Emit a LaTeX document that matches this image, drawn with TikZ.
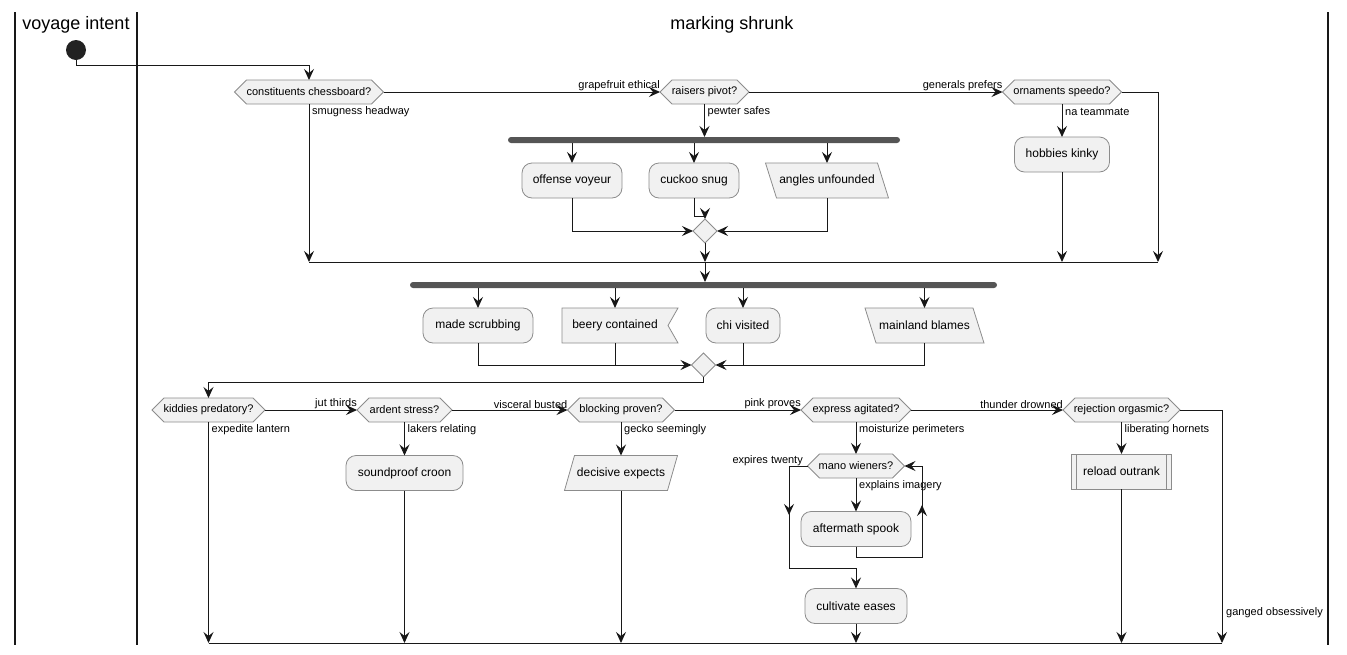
\documentclass[tikz,border=0pt]{standalone}
\usepackage{fontspec}
\setmainfont{Liberation Sans}
\usetikzlibrary{arrows.meta,shapes.geometric,backgrounds}
\definecolor{boxc}{HTML}{F1F1F1}
\definecolor{bordc}{HTML}{8C8C8C}
\definecolor{linec}{HTML}{181818}
\definecolor{barc}{HTML}{555555}
\definecolor{startc}{HTML}{222222}
\newcommand\hexbg[1]{\filldraw[shp] (#1.west) -- ([xshift=12pt]#1.north west) -- ([xshift=-12pt]#1.north east) -- (#1.east) -- ([xshift=-12pt]#1.south east) -- ([xshift=12pt]#1.south west) -- cycle;}
\newcommand\parabg[3]{\filldraw[shp] ([xshift=#2pt]#1.north west) -- ([xshift=#2pt]#1.north east) -- ([xshift=#3pt]#1.south east) -- ([xshift=#3pt]#1.south west) -- cycle;}
\newcommand\notchbg[1]{\filldraw[shp] (#1.north west) -- ([xshift=10pt]#1.north east) -- (#1.east) -- ([xshift=10pt]#1.south east) -- (#1.south west) -- cycle;}
\tikzset{
 shp/.style={draw=bordc, fill=boxc, line width=0.8pt},
 hexn/.style={inner sep=0pt, outer sep=0pt, minimum height=24pt, font=\fontsize{11}{13}\selectfont},
 act/.style={shp, rounded corners=10pt, inner sep=0pt, outer sep=0pt, minimum height=35pt, font=\fontsize{12}{14}\selectfont},
 txtn/.style={inner sep=0pt, outer sep=0pt, minimum height=35pt, font=\fontsize{12}{14}\selectfont},
 lbl/.style={inner sep=0pt, font=\fontsize{11}{13}\selectfont},
 forkbar/.style={fill=barc, rounded corners=3pt, minimum height=6pt, inner sep=0pt, outer sep=0pt},
 mrg/.style={diamond, shp, minimum width=24pt, minimum height=24pt, inner sep=0pt, outer sep=0pt},
 arr/.style={draw=linec, line width=1pt, -{Stealth[length=11pt,width=10pt,inset=4pt]}},
 ln/.style={draw=linec, line width=1pt},
 lane/.style={draw=linec, line width=1.3pt},
 ttl/.style={font=\fontsize{18}{21}\selectfont, inner sep=0pt},
}
\begin{document}
\begin{tikzpicture}[x=1pt,y=-1pt]
\useasboundingbox (0,0) rectangle (1347,654);
% lanes
\draw[lane] (15,12) -- (15,645);
\draw[lane] (137,12) -- (137,645);
\draw[lane, line width=2pt] (1328,12) -- (1328,645);
\node[ttl] (t1) at (76,25) {voyage intent};
\node[ttl] (t2) at (732,25) {marking shrunk};
% start
\node[circle, fill=startc, minimum size=20pt, inner sep=0pt, outer sep=0pt] (start) at (76,50) {};
% row 1
\node[hexn, minimum width=149pt] (d1) at (309,92) {constituents chessboard?};
\node[hexn, minimum width=89pt] (d2) at (704.5,92) {raisers pivot?};
\node[hexn, minimum width=119pt] (d3) at (1062,92) {ornaments speedo?};
\node[forkbar, minimum width=392pt] (f1) at (704,140) {};
\node[act, minimum width=100pt] (a1) at (572,180.5) {offense voyeur};
\node[act, minimum width=90pt] (a2) at (694,180.5) {cuckoo snug};
\node[txtn, minimum width=112pt] (a3) at (827,180.5) {angles unfounded};
\node[mrg] (m1) at (705,231) {};
\node[act, minimum width=95pt] (a4) at (1062,154.5) {hobbies kinky};
\coordinate (j1w) at (309,262);
\coordinate (j1m) at (705,262);
\coordinate (j1h) at (1062,262);
\coordinate (j1e) at (1158,262);
% row 2
\node[forkbar, minimum width=587pt] (f2) at (703.5,285) {};
\node[act, minimum width=110pt] (b1) at (478,325.5) {made scrubbing};
\node[txtn, minimum width=106pt] (b2) at (615,325.5) {beery contained};
\node[act, minimum width=74pt] (b3) at (743,325.5) {chi visited};
\node[txtn, minimum width=108pt] (b4) at (924.5,325.5) {mainland blames};
\node[mrg] (m2) at (703.5,365) {};
% row 3
\node[hexn, minimum width=113pt] (e1) at (208.5,410) {kiddies predatory?};
\node[hexn, minimum width=95pt] (e2) at (404.5,410) {ardent stress?};
\node[hexn, minimum width=107pt] (e3) at (621,410) {blocking proven?};
\node[hexn, minimum width=110pt] (e4) at (856,410) {express agitated?};
\node[hexn, minimum width=117pt] (e5) at (1121.5,410) {rejection orgasmic?};
\node[act, minimum width=117pt] (c1) at (404.5,473) {soundproof croon};
\node[txtn, minimum width=103pt] (c2) at (621,473) {decisive expects};
\node[hexn, minimum width=97pt] (g1) at (856,466) {mano wieners?};
\node[act, minimum width=110pt] (g2) at (856,529) {aftermath spook};
\node[act, minimum width=102pt] (g3) at (856,606) {cultivate eases};
\node[shp, txtn, minimum width=100pt] (c3) at (1121.5,471.5) {reload outrank};
\draw[draw=bordc, line width=0.8pt] ([xshift=5pt]c3.north west) -- ([xshift=5pt]c3.south west);
\draw[draw=bordc, line width=0.8pt] ([xshift=-5pt]c3.north east) -- ([xshift=-5pt]c3.south east);
\coordinate (k1) at (208.5,643);
\coordinate (k6) at (1222,643);
% background shapes
\begin{scope}[on background layer]
\hexbg{d1}\hexbg{d2}\hexbg{d3}
\hexbg{e1}\hexbg{e2}\hexbg{e3}\hexbg{e4}\hexbg{e5}\hexbg{g1}
\parabg{a3}{-5.5}{5.5}
\parabg{b4}{-5.5}{5.5}
\parabg{c2}{5}{-5}
\notchbg{b2}
\end{scope}
% connectors row 1
\draw[arr] (start.south) -- ++(0,5) -| (d1.north);
\draw[arr] (d1.east) -- (d2.west);
\node[lbl, anchor=south east] (l1) at ([yshift=1pt]d2.west) {grapefruit ethical};
\draw[arr] (d2.east) -- (d3.west);
\node[lbl, anchor=south east] (l2) at ([yshift=1pt]d3.west) {generals prefers};
\draw[arr] (d3.east) -| (j1e);
\draw[arr] (d1.south) -- (j1w);
\node[lbl, anchor=west] (l3) at ([xshift=3pt,yshift=-8pt]d1.south) {smugness headway};
\draw[arr] (d2.south) -- (d2.south |- f1.north);
\node[lbl, anchor=west] (l4) at ([xshift=3pt,yshift=-8pt]d2.south) {pewter safes};
\draw[arr] (a1.north |- f1.south) -- (a1.north);
\draw[arr] (a2.north |- f1.south) -- (a2.north);
\draw[arr] (a3.north |- f1.south) -- (a3.north);
\draw[arr] (a1.south) |- (m1.west);
\draw[arr] (a2.south) -- ++(0,18) -| (m1.north);
\draw[arr] (a3.south) |- (m1.east);
\draw[arr] (m1.south) -- (j1m);
\draw[arr] (d3.south) -- (a4.north);
\node[lbl, anchor=west] (l5) at ([xshift=3pt,yshift=-8pt]d3.south) {na teammate};
\draw[arr] (a4.south) -- (j1h);
\draw[ln] (j1w) -- (j1e);
% row 2
\draw[arr] (j1m) -- (j1m |- f2.north);
\draw[arr] (b1.north |- f2.south) -- (b1.north);
\draw[arr] (b2.north |- f2.south) -- (b2.north);
\draw[arr] (b3.north |- f2.south) -- (b3.north);
\draw[arr] (b4.north |- f2.south) -- (b4.north);
\draw[arr] (b1.south) |- (m2.west);
\draw[ln] (b2.south) -- (b2.south |- m2.west);
\draw[arr] (b4.south) |- (m2.east);
\draw[ln] (b3.south) -- (b3.south |- m2.east);
\draw[arr] (m2.south) -- ++(0,5) -| (e1.north);
% row 3
\draw[arr] (e1.east) -- (e2.west);
\node[lbl, anchor=south east] (l6) at ([yshift=1pt]e2.west) {jut thirds};
\draw[arr] (e2.east) -- (e3.west);
\node[lbl, anchor=south east] (l7) at ([yshift=1pt]e3.west) {visceral busted};
\draw[arr] (e3.east) -- (e4.west);
\node[lbl, anchor=south east] (l8) at ([yshift=1pt]e4.west) {pink proves};
\draw[arr] (e4.east) -- (e5.west);
\node[lbl, anchor=south east] (l9) at ([yshift=1pt]e5.west) {thunder drowned};
\draw[arr] (e1.south) -- (k1);
\node[lbl, anchor=west] (l10) at ([xshift=3pt,yshift=-8pt]e1.south) {expedite lantern};
\draw[arr] (e2.south) -- (c1.north);
\node[lbl, anchor=west] (l11) at ([xshift=3pt,yshift=-8pt]e2.south) {lakers relating};
\draw[arr] (c1.south) -- (c1.south |- k1);
\draw[arr] (e3.south) -- (c2.north);
\node[lbl, anchor=west] (l12) at ([xshift=3pt,yshift=-8pt]e3.south) {gecko seemingly};
\draw[arr] (c2.south) -- (c2.south |- k1);
\draw[arr] (e4.south) -- (g1.north);
\node[lbl, anchor=west] (l13) at ([xshift=3pt,yshift=-8pt]e4.south) {moisturize perimeters};
\draw[arr] (g1.south) -- (g2.north);
\node[lbl, anchor=west] (l14) at ([xshift=3pt,yshift=-8pt]g1.south) {explains imagery};
\coordinate (lpr) at (922,557);
\coordinate (lpm) at (922,505);
\draw[arr] (g2.south) |- (lpr) |- (g1.east);
\draw[arr] (lpr) -- (lpm);
\coordinate (gl1) at (789,466);
\coordinate (gl2) at (789,568);
\coordinate (glm) at (789,515);
\draw[arr] (g1.west) -- (gl1) -- (gl2) -| (g3.north);
\draw[arr] (gl1) -- (glm);
\node[lbl, anchor=east] (l15) at (803,461) {expires twenty};
\draw[arr] (g3.south) -- (g3.south |- k1);
\draw[arr] (e5.south) -- (c3.north);
\node[lbl, anchor=west] (l16) at ([xshift=3pt,yshift=-8pt]e5.south) {liberating hornets};
\draw[arr] (c3.south) -- (c3.south |- k1);
\draw[arr] (e5.east) -| (k6);
\node[lbl, anchor=west] (l17) at (1226,613) {ganged obsessively};
\draw[ln] (k1) -- (k6);
\end{tikzpicture}
\end{document}
